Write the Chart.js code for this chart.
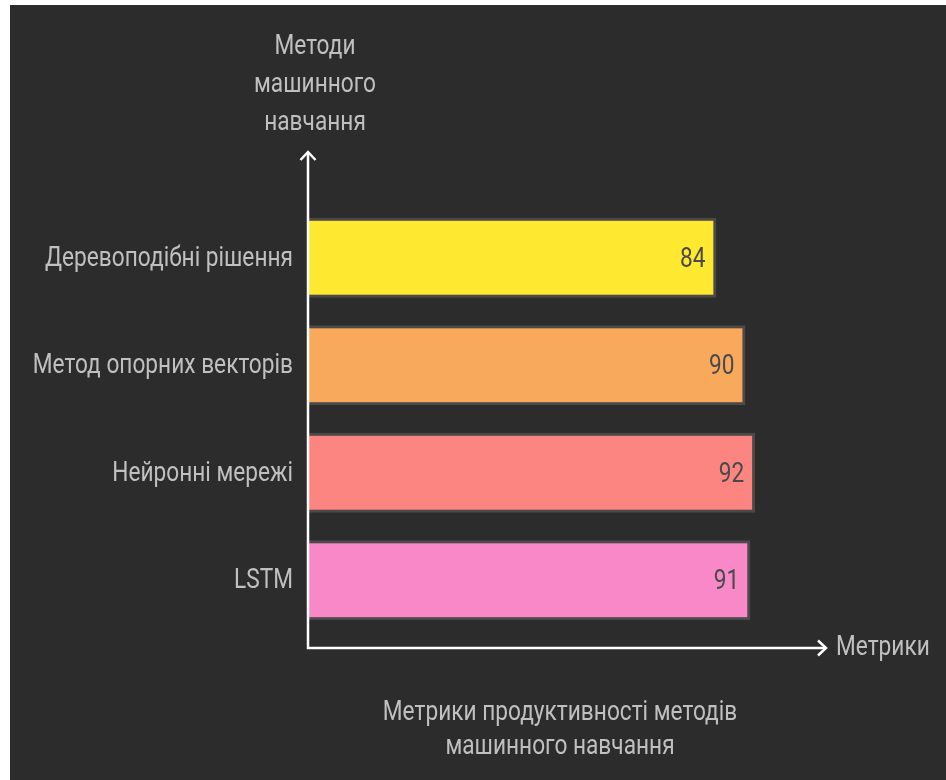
<!DOCTYPE html>
<html>
<head>
<meta charset="utf-8">
<style>
  html, body { margin: 0; padding: 0; background: #ffffff; }
  #wrap { width: 946px; height: 780px; }
</style>
<script src="https://cdn.jsdelivr.net/npm/chart.js@4.4.1/dist/chart.umd.min.js"></script>
</head>
<body>
<div id="wrap"><canvas id="chart" width="946" height="780"></canvas></div>
<script>
// Methods and their performance scores
const methods = ['Деревоподібні рішення', 'Метод опорних векторів', 'Нейронні мережі', 'LSTM'];
const scores = [84, 90, 92, 91];
const barColors = ['#ffe930', '#f9a95c', '#fd8581', '#f888c8'];
const yTitleLines = ['Методи', 'машинного', 'навчання'];
const xTitle = 'Метрики';
const captionLines = ['Метрики продуктивності методів', 'машинного навчання'];

const FONT_FAMILY = 'Roboto, "Noto Sans", sans-serif';
const TEXT_SIZE = 28;
const NARROW = 0.81;           // horizontal squeeze for a condensed look
const LABEL_COLOR = '#c0c0c0';
const VALUE_COLOR = '#4a4a4a';

function narrowText(ctx, text, x, y, align, color, size) {
  ctx.save();
  ctx.font = `${size || TEXT_SIZE}px ${FONT_FAMILY}`;
  ctx.fillStyle = color;
  ctx.textAlign = align;
  ctx.textBaseline = 'middle';
  ctx.translate(x, y);
  ctx.scale(NARROW, 1);
  ctx.fillText(text, 0, 0);
  ctx.restore();
}

// Dark panel behind the plot
const panel = {
  id: 'panel',
  beforeDraw(chart) {
    const ctx = chart.ctx;
    ctx.save();
    ctx.fillStyle = '#ffffff';
    ctx.fillRect(0, 0, chart.width, chart.height);
    ctx.fillStyle = '#2c2c2c';
    ctx.fillRect(10, 5, chart.width - 10, chart.height - 5);
    ctx.restore();
  }
};

// Arrowed axes, category labels, bar values and titles
const decorations = {
  id: 'decorations',
  afterDatasetsDraw(chart) {
    const ctx = chart.ctx;
    const xs = chart.scales.x;
    const ys = chart.scales.y;
    const x0 = xs.getPixelForValue(0) - 1;
    const yBase = ys.bottom + 14;
    const yTop = ys.top - 52;
    const xEnd = xs.right + 32;

    ctx.save();
    ctx.strokeStyle = '#ffffff';
    ctx.lineWidth = 2.5;
    ctx.lineCap = 'butt';
    ctx.beginPath();
    ctx.moveTo(x0, yBase);
    ctx.lineTo(x0, yTop);
    ctx.moveTo(x0 - 1.25, yBase);
    ctx.lineTo(xEnd, yBase);
    ctx.stroke();
    ctx.lineJoin = 'miter';
    ctx.beginPath();
    ctx.moveTo(x0 - 7.5, yTop + 8);
    ctx.lineTo(x0, yTop);
    ctx.lineTo(x0 + 7.5, yTop + 8);
    ctx.moveTo(xEnd - 8, yBase - 7.5);
    ctx.lineTo(xEnd, yBase);
    ctx.lineTo(xEnd - 8, yBase + 7.5);
    ctx.stroke();
    ctx.restore();

    methods.forEach((name, i) => {
      const y = ys.getPixelForValue(i);
      narrowText(ctx, name, x0 - 15, y + 1, 'right', LABEL_COLOR);
      const xv = xs.getPixelForValue(scores[i]);
      narrowText(ctx, String(scores[i]), xv - 11, y + 2, 'right', VALUE_COLOR);
    });

    yTitleLines.forEach((line, i) => {
      narrowText(ctx, line, x0 + 7, 47 + i * 38, 'center', LABEL_COLOR);
    });
    narrowText(ctx, xTitle, xEnd + 10, yBase, 'left', LABEL_COLOR);
    captionLines.forEach((line, i) => {
      narrowText(ctx, line, 560, 713 + i * 34, 'center', LABEL_COLOR);
    });
  }
};

new Chart(document.getElementById('chart'), {
  type: 'bar',
  data: {
    labels: methods,
    datasets: [{
      data: scores,
      backgroundColor: barColors,
      borderColor: '#4a4a4a',
      borderWidth: 3,
      borderSkipped: 'start',
      barPercentage: 0.745,
      categoryPercentage: 1.0
    }]
  },
  options: {
    indexAxis: 'y',
    responsive: false,
    animation: false,
    events: [],
    layout: { padding: { left: 309, right: 152, top: 204, bottom: 146 } },
    plugins: { legend: { display: false }, tooltip: { enabled: false } },
    scales: {
      x: { min: 0, max: 100, display: false, grid: { display: false } },
      y: { display: false, grid: { display: false } }
    }
  },
  plugins: [panel, decorations]
});
</script>
</body>
</html>
